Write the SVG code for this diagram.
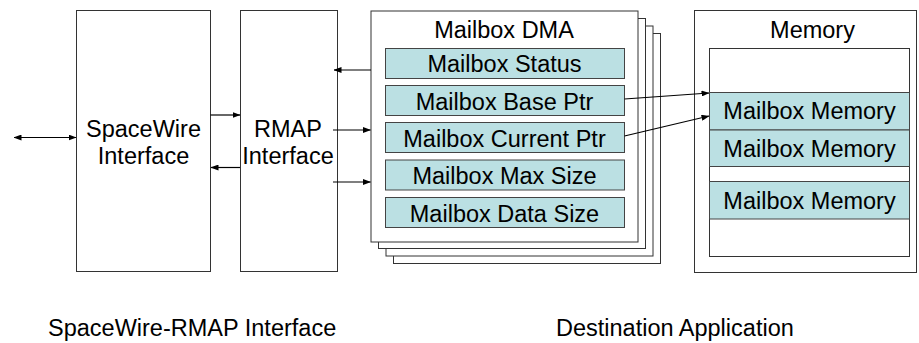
<svg xmlns="http://www.w3.org/2000/svg" width="919" height="343" viewBox="0 0 919 343">
<style>
text{font-family:"Liberation Sans",Arial,sans-serif;font-size:23.5px;fill:#000;text-anchor:middle}
.box{fill:#fff;stroke:#333;stroke-width:1}
.teal{fill:#BBE0E3;stroke:#444;stroke-width:1}
.c{stroke:#000;stroke-width:1.2;fill:none;marker-end:url(#ah)}
</style>
<defs>
<marker id="ah" markerWidth="8" markerHeight="6" refX="7.5" refY="3" orient="auto" markerUnits="userSpaceOnUse">
<path d="M0,0 L8,3 L0,6 Z" fill="#000"/>
</marker>
<marker id="as" markerWidth="8" markerHeight="6" refX="0.5" refY="3" orient="auto" markerUnits="userSpaceOnUse">
<path d="M8,0 L0,3 L8,6 Z" fill="#000"/>
</marker>
</defs>
<g id="spacewire">
<rect class="box" x="76.5" y="10.5" width="134" height="261"/>
<text x="143.5" y="137">SpaceWire</text>
<text x="143.5" y="164">Interface</text>
</g>
<g id="rmap">
<rect class="box" x="240.5" y="10.5" width="97" height="261"/>
<text x="288" y="137">RMAP</text>
<text x="288" y="164">Interface</text>
</g>
<g id="mailbox-dma">
<rect class="box" x="393.5" y="33.5" width="267" height="230"/>
<rect class="box" x="386" y="26" width="267" height="230"/>
<rect class="box" x="378.5" y="18.5" width="267" height="230"/>
<rect class="box" x="371" y="11" width="267" height="231"/>
<text x="504" y="38">Mailbox DMA</text>
<rect class="teal" x="385.5" y="48.5" width="239" height="30"/>
<text x="504.5" y="72">Mailbox Status</text>
<rect class="teal" x="385.5" y="85.5" width="239" height="30"/>
<text x="504.5" y="109.5">Mailbox Base Ptr</text>
<rect class="teal" x="385.5" y="122.5" width="239" height="30"/>
<text x="504.5" y="146.5">Mailbox Current Ptr</text>
<rect class="teal" x="385.5" y="160" width="239" height="30"/>
<text x="504.5" y="184">Mailbox Max Size</text>
<rect class="teal" x="385.5" y="197.5" width="239" height="30"/>
<text x="504.5" y="221.5">Mailbox Data Size</text>
</g>
<g id="memory">
<rect class="box" x="694.5" y="10.5" width="222" height="262"/>
<text x="812.5" y="37.5">Memory</text>
<rect class="box" x="709.5" y="48.5" width="200" height="208"/>
<rect class="teal" x="709.5" y="92.5" width="200" height="37.5"/>
<text x="809.5" y="118.5">Mailbox Memory</text>
<rect class="teal" x="709.5" y="130" width="200" height="36.5"/>
<text x="809.5" y="156.5">Mailbox Memory</text>
<rect class="teal" x="709.5" y="181.5" width="200" height="37.5"/>
<text x="809.5" y="208.5">Mailbox Memory</text>
</g>
<g id="connectors">
<line class="c" x1="14" y1="137.5" x2="76" y2="137.5" marker-start="url(#as)"/>
<line class="c" x1="210.5" y1="115" x2="240" y2="115"/>
<line class="c" x1="240" y1="167.5" x2="211" y2="167.5"/>
<line class="c" x1="371" y1="70" x2="334" y2="70"/>
<line class="c" x1="333" y1="130" x2="370.5" y2="130"/>
<line class="c" x1="333" y1="182" x2="370.5" y2="182"/>
<line class="c" x1="624.5" y1="99" x2="709" y2="93"/>
<line class="c" x1="624.5" y1="136" x2="709" y2="116"/>
</g>
<g id="labels">
<text x="48" y="336" style="text-anchor:start">SpaceWire-RMAP Interface</text>
<text x="556" y="336" style="text-anchor:start">Destination Application</text>
</g>
</svg>
